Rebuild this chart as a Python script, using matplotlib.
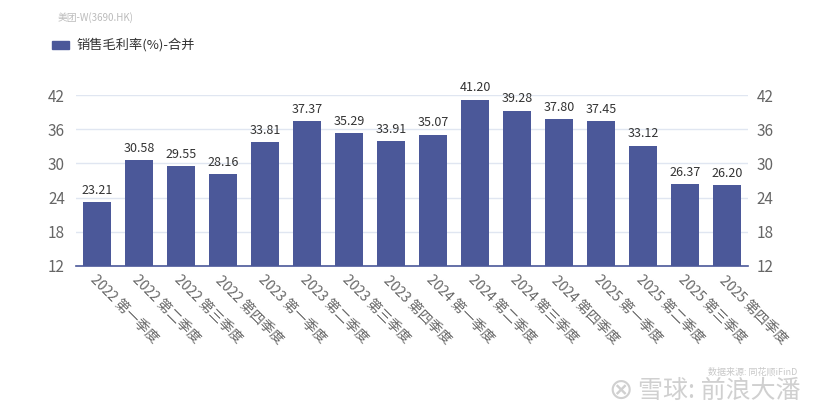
import matplotlib.pyplot as plt
from matplotlib.patches import Rectangle

plt.rcParams['font.family'] = ['Noto Sans CJK SC', 'DejaVu Sans']

quarters = ['2022 第一季度', '2022 第二季度', '2022 第三季度', '2022 第四季度',
            '2023 第一季度', '2023 第二季度', '2023 第三季度', '2023 第四季度',
            '2024 第一季度', '2024 第二季度', '2024 第三季度', '2024 第四季度',
            '2025 第一季度', '2025 第二季度', '2025 第三季度', '2025 第四季度']
margin = [23.21, 30.58, 29.55, 28.16, 33.81, 37.37, 35.29, 33.91,
          35.07, 41.20, 39.28, 37.80, 37.45, 33.12, 26.37, 26.20]
yticks = [12, 18, 24, 30, 36, 42]

bar_color = '#4b5899'
tick_color = '#666666'

fig = plt.figure(figsize=(8.24, 4.17), dpi=100)
ax = fig.add_axes([76 / 824, 1 - 266 / 417, 672 / 824, 171 / 417])

x = list(range(len(margin)))
ax.bar(x, margin, width=0.69, color=bar_color, zorder=3)
for xi, v in zip(x, margin):
    ax.text(xi, v + 0.9, f'{v:.2f}', ha='center', va='bottom',
            fontsize=9, color='#333333')

ax.set_xlim(-0.5, len(margin) - 0.5)
ax.set_ylim(12, 42)
ax.set_yticks(yticks)
ax.grid(axis='y', color='#e0e6f1', linewidth=1, zorder=0)
for s in ['top', 'right', 'left']:
    ax.spines[s].set_visible(False)
ax.spines['bottom'].set_color('#4b5899')
ax.spines['bottom'].set_linewidth(1.2)
ax.tick_params(axis='y', length=0, labelsize=11, labelcolor=tick_color, pad=8)
ax.tick_params(axis='x', length=0, pad=5)
ax.set_xticks(x)
ax.set_xticklabels(quarters, rotation=-45, ha='left', va='top',
                   rotation_mode='anchor', fontsize=10, color=tick_color)

ax2 = ax.twinx()
ax2.set_ylim(12, 42)
ax2.set_yticks(yticks)
for s in ['top', 'right', 'left', 'bottom']:
    ax2.spines[s].set_visible(False)
ax2.tick_params(axis='y', length=0, labelsize=11, labelcolor=tick_color, pad=6)

# header
fig.text(58 / 824, 1 - 18 / 417, '美团-W(3690.HK)', fontsize=7, color='#bbbbbb',
         va='center', ha='left')
fig.patches.append(Rectangle((52 / 824, 1 - 49 / 417), 17 / 824, 8 / 417,
                             transform=fig.transFigure, color=bar_color))
fig.text(76 / 824, 1 - 45 / 417, '销售毛利率(%)-合并', fontsize=9.5, color='#333333',
         va='center', ha='left')

# watermark
fig.text(708 / 824, 1 - 372 / 417, '数据来源: 同花顺iFinD', fontsize=6.5,
         color='#c8c8c8', va='center', ha='left')
fig.text(608 / 824, 1 - 391 / 417, '⊗', fontsize=21, color='#d0d0d0',
         va='center', ha='left', family=['DejaVu Sans'])
fig.text(638 / 824, 1 - 391 / 417, '雪球: 前浪大潘', fontsize=18, color='#d0d0d0',
         va='center', ha='left')

fig.savefig('out.png', dpi=100)
